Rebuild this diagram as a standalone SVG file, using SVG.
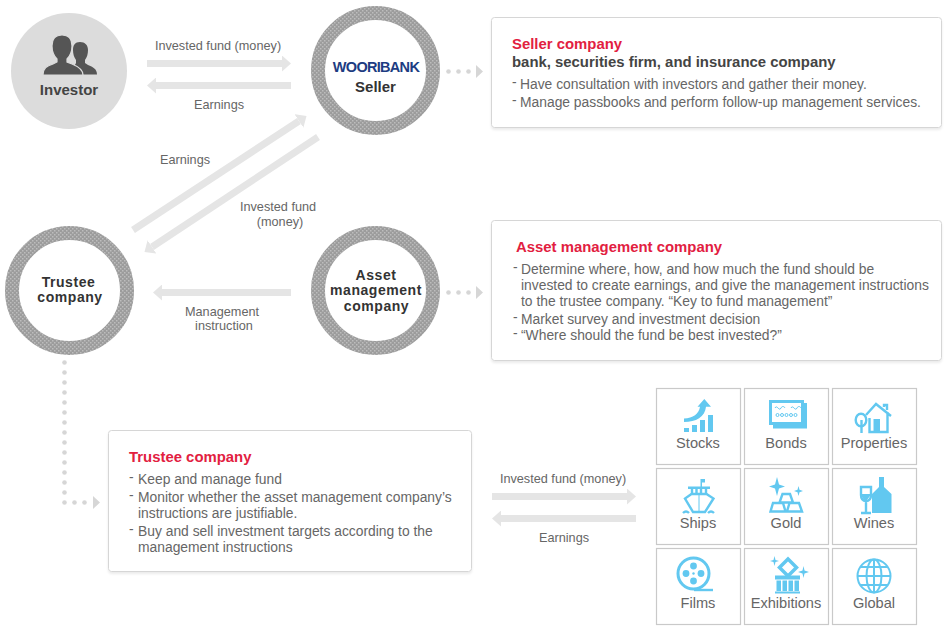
<svg xmlns="http://www.w3.org/2000/svg" width="945" height="631" viewBox="0 0 945 631">
<style>
text{font-family:"Liberation Sans",Arial,sans-serif}
.lb{font-size:12.7px;fill:#666;text-anchor:middle}
.nd{font-size:15px;font-weight:bold;fill:#333;text-anchor:middle}
.nm{font-size:14px;letter-spacing:.55px;font-weight:bold;fill:#333;text-anchor:middle}
.hd{font-size:14.9px;font-weight:bold;fill:#e2203f}
.sb{font-size:14.9px;font-weight:bold;fill:#444}
.bd{font-size:13.85px;fill:#666}
.tl{font-size:14.6px;fill:#666;text-anchor:middle}
.ring{fill:#fff;stroke:url(#dots);stroke-width:14}
.panel{fill:#fff;stroke:#d6d6d6;stroke-width:1;filter:url(#sh)}
.tile{fill:#fff;stroke:#c9c9c9;stroke-width:1.2}
.dot{fill:#d6d6d6}
.bar{stroke:#e5e5e5;stroke-width:7;fill:none;marker-end:url(#ah)}
.i{fill:#62c8f0;stroke:none}
.o{fill:none;stroke:#62c8f0;stroke-width:2.400}
.t{fill:none;stroke:#62c8f0;stroke-width:1}
</style>
<defs>
<pattern id="dots" width="4" height="4" patternUnits="userSpaceOnUse"><rect width="4" height="4" fill="#9c9c9c"/><rect x="0" y="0" width="1.500" height="1.500" fill="#bdbdbd"/><rect x="2" y="2" width="1.500" height="1.500" fill="#bdbdbd"/></pattern>
<marker id="ah" markerUnits="userSpaceOnUse" markerWidth="10" markerHeight="16" refX="0" refY="8" orient="auto"><path d="M0,0L9,8L0,16Z" fill="#e5e5e5"/></marker>
<filter id="sh" x="-2%" y="-2%" width="104%" height="108%"><feDropShadow dx="0" dy="2" stdDeviation="1" flood-color="#000" flood-opacity="0.08"/></filter>
</defs>
<g id="connectors">
<line class="bar" x1="147" y1="63.500" x2="282" y2="63.500"/>
<line class="bar" x1="291" y1="85.500" x2="156" y2="85.500"/>
<line class="bar" x1="133" y1="230" x2="299" y2="121"/>
<line class="bar" x1="318" y1="137" x2="152" y2="247"/>
<line class="bar" x1="291" y1="292.500" x2="162" y2="292.500"/>
<line class="bar" x1="492" y1="496.500" x2="627" y2="496.500"/>
<line class="bar" x1="636" y1="518.500" x2="501" y2="518.500"/>
<g class="dot">
<circle cx="448.500" cy="71.500" r="2.300"/><circle cx="458.500" cy="71.500" r="2.300"/><circle cx="468.500" cy="71.500" r="2.300"/><path d="M476,65L483,71.500L476,78Z"/>
<circle cx="448.500" cy="292.500" r="2.300"/><circle cx="458.500" cy="292.500" r="2.300"/><circle cx="468.500" cy="292.500" r="2.300"/><path d="M476,286L483,292.500L476,299Z"/>
<circle cx="64.500" cy="362.500" r="2.300"/><circle cx="64.500" cy="372.500" r="2.300"/><circle cx="64.500" cy="382.500" r="2.300"/><circle cx="64.500" cy="392.500" r="2.300"/><circle cx="64.500" cy="402.500" r="2.300"/><circle cx="64.500" cy="412.500" r="2.300"/><circle cx="64.500" cy="422.500" r="2.300"/><circle cx="64.500" cy="432.500" r="2.300"/><circle cx="64.500" cy="442.500" r="2.300"/><circle cx="64.500" cy="452.500" r="2.300"/><circle cx="64.500" cy="462.500" r="2.300"/><circle cx="64.500" cy="472.500" r="2.300"/><circle cx="64.500" cy="482.500" r="2.300"/><circle cx="64.500" cy="492.500" r="2.300"/>
<circle cx="64.500" cy="502.500" r="2.300"/><circle cx="74.500" cy="502.500" r="2.300"/><circle cx="84.500" cy="502.500" r="2.300"/><path d="M93,496L100,502.500L93,509Z"/>
</g>
<text class="lb" x="218" y="50">Invested fund (money)</text>
<text class="lb" x="219" y="109">Earnings</text>
<text class="lb" x="185" y="164">Earnings</text>
<text class="lb" y="211"><tspan x="278">Invested fund</tspan><tspan x="280" dy="15">(money)</tspan></text>
<text class="lb" y="316"><tspan x="222">Management</tspan><tspan x="224" dy="14">instruction</tspan></text>
<text class="lb" x="563" y="483">Invested fund (money)</text>
<text class="lb" x="564" y="542">Earnings</text>
</g>
<g id="investor">
<circle cx="69" cy="71" r="58" fill="#dcdcdc"/>
<path fill="#555" d="M70,74.500H97C97,69 93,67 88,65L85,63V60C87,57 88,54 88,50C88,45 85,42 80,42C75,42 73,45 73,50C73,54 74,57 76,60V63Z"/>
<path fill="#555" stroke="#dcdcdc" stroke-width="1.200" d="M43,75C43,68 47,66 53,64L57,62V59C54,56 52,51 52,46C52,39 56,35 62,35C68,35 72,39 72,46C72,51 70,56 67,59V62L72,64C77,66 83,69 83,75Z"/>
<text class="nd" x="69" y="95" style="fill:#444">Investor</text>
</g>
<g id="seller">
<circle class="ring" cx="375.500" cy="70.500" r="57.500"/>
<text x="376" y="72" text-anchor="middle" font-size="14.500" font-weight="bold" letter-spacing="-.7" fill="#1d3c82">WOORIBANK</text>
<text class="nd" x="375.500" y="92">Seller</text>
</g>
<g id="trustee">
<circle class="ring" cx="69.500" cy="290.500" r="57.500"/>
<text class="nm" y="286.750"><tspan x="68.500">Trustee</tspan><tspan x="70" dy="15.500">company</tspan></text>
</g>
<g id="asset">
<circle class="ring" cx="375.500" cy="290.500" r="57.500"/>
<text class="nm" y="279.500"><tspan x="376">Asset</tspan><tspan x="376" dy="15.500">management</tspan><tspan x="376.500" dy="15.500">company</tspan></text>
</g>
<g id="seller-panel">
<rect class="panel" x="491.500" y="17.500" width="450" height="110" rx="3"/>
<text class="hd" x="512" y="49">Seller company</text>
<text class="sb" x="512" y="67">bank, securities firm, and insurance company</text>
<text class="bd" y="89"><tspan x="512" dy="-2">-</tspan><tspan x="520" dy="2">Have consultation with investors and gather their money.</tspan></text>
<text class="bd" y="107"><tspan x="512" dy="-2">-</tspan><tspan x="520" dy="2">Manage passbooks and perform follow-up management services.</tspan></text>
</g>
<g id="asset-panel">
<rect class="panel" x="491.500" y="220.500" width="450" height="140" rx="3"/>
<text class="hd" x="516" y="252">Asset management company</text>
<text class="bd" y="274"><tspan x="513" dy="-2">-</tspan><tspan x="521" dy="2">Determine where, how, and how much the fund should be</tspan></text>
<text class="bd" x="521" y="290">invested to create earnings, and give the management instructions</text>
<text class="bd" x="521" y="306">to the trustee company. “Key to fund management”</text>
<text class="bd" y="324"><tspan x="513" dy="-2">-</tspan><tspan x="521" dy="2">Market survey and investment decision</tspan></text>
<text class="bd" y="340"><tspan x="513" dy="-2">-</tspan><tspan x="521" dy="2">“Where should the fund be best invested?”</tspan></text>
</g>
<g id="trustee-panel">
<rect class="panel" x="108.500" y="430.500" width="363" height="141" rx="3"/>
<text class="hd" x="129" y="462">Trustee company</text>
<text class="bd" y="484"><tspan x="129" dy="-2">-</tspan><tspan x="138" dy="2">Keep and manage fund</tspan></text>
<text class="bd" y="502"><tspan x="129" dy="-2">-</tspan><tspan x="138" dy="2">Monitor whether the asset management company’s</tspan></text>
<text class="bd" x="138" y="518">instructions are justifiable.</text>
<text class="bd" y="536"><tspan x="129" dy="-2">-</tspan><tspan x="138" dy="2">Buy and sell investment targets according to the</tspan></text>
<text class="bd" x="138" y="552">management instructions</text>
</g>
<g id="stocks"><rect class="tile" x="656.500" y="388.500" width="84" height="76"/>
<path class="i" d="M684,428h5v4h-5zM692,425h5v7h-5zM700,420h5v12h-5zM708,415h5v17h-5z"/>
<path class="i" d="M684,418.500C693,418 699,414 700,406.700H697.500L704.300,399L711,406.700H706C705,417 696,422 684,422Z"/>
<text class="tl" x="698" y="448">Stocks</text></g>
<g id="bonds"><rect class="tile" x="744.500" y="388.500" width="84" height="76"/>
<path class="i" d="M804,403H807V428.500H773V425H804Z"/>
<rect x="770.500" y="401.500" width="32" height="22" fill="#fff" stroke="#62c8f0" stroke-width="3"/>
<path class="t" d="M775,408c2,-4 4,4 6,0c1,-2 3,-2 4,0M791,408c2,-4 4,4 6,0c1,-2 3,-2 4,0"/>
<g class="t"><circle cx="777.500" cy="415" r="1.500"/><circle cx="782" cy="415" r="1.500"/><circle cx="786.500" cy="415" r="1.500"/><circle cx="791" cy="415" r="1.500"/><circle cx="795.500" cy="415" r="1.500"/></g>
<text class="tl" x="786" y="448">Bonds</text></g>
<g id="properties"><rect class="tile" x="832.500" y="388.500" width="84" height="76"/>
<path class="o" d="M866,415L876,404L891,416M869.500,418V432H887.500V412"/><path class="o" d="M884,407V405H887V410"/>
<path class="i" d="M873.500,419h6.500v13h-6.500z"/>
<ellipse class="o" cx="861" cy="420" rx="5.300" ry="6.300"/><path class="o" d="M861.500,420V433"/>
<text class="tl" x="874" y="448">Properties</text></g>
<g id="ships"><rect class="tile" x="656.500" y="468.500" width="84" height="76"/>
<path class="i" d="M688,486.500h22v2.500h-22zM700.500,479h4.500v3.500h-3v4h-1.500z"/>
<path class="o" stroke-width="2" d="M692,489v5M696.500,489v5M701,489v5M706,489v5"/>
<path class="o" d="M691.500,494H706.500L713.500,498.500L705,512H693L685,498.500Z"/>
<path class="t" stroke-width="1.200" d="M699,494V512"/>
<path class="o" stroke-width="1.300" d="M683,513q3,-3 6,0M708,513q3,-3 6,0"/>
<text class="tl" x="698" y="528">Ships</text></g>
<g id="gold"><rect class="tile" x="744.500" y="468.500" width="84" height="76"/>
<path class="i" d="M777,477L779,484.500L785,486.500L779,488.500L777,496L775,488.500L769,486.500L775,484.500Z"/>
<path class="i" d="M798.500,486L799.500,489.800L803,491L799.500,492.200L798.500,496L797.500,492.200L794,491L797.500,489.800Z"/>
<path class="o" d="M782.500,494H790L793,502.500H779.500ZM773,503H783L785.500,511.500H770.500ZM789.500,503H799L802,511.500H787Z"/>
<text class="tl" x="786" y="528">Gold</text></g>
<g id="wines"><rect class="tile" x="832.500" y="468.500" width="84" height="76"/>
<path class="o" stroke-width="1.800" d="M861,487H871V495C871,499 869,501 866,501C863,501 861,499 861,495ZM866,501V512M861,513H871"/>
<path class="i" d="M862,494h8v2l-3,4h-3l-2,-3z"/>
<path class="i" d="M879,477h5v10l7.500,7v19H872V494l7,-7z"/>
<text class="tl" x="874" y="528">Wines</text></g>
<g id="films"><rect class="tile" x="656.500" y="548.500" width="84" height="76"/>
<circle cx="693.500" cy="573.500" r="15.500" fill="none" stroke="#62c8f0" stroke-width="3"/>
<g class="i"><circle cx="693.500" cy="566" r="3.400"/><circle cx="693.500" cy="581" r="3.400"/><circle cx="686" cy="573.500" r="3.400"/><circle cx="701" cy="573.500" r="3.400"/><circle cx="693.500" cy="573.500" r="1.200"/></g>
<path class="o" stroke-width="1.200" d="M694,590H713"/>
<text class="tl" x="698" y="608">Films</text></g>
<g id="exhibitions"><rect class="tile" x="744.500" y="548.500" width="84" height="76"/>
<path d="M788,559L796.500,567.500L788,576L779.500,567.500Z" fill="none" stroke="#62c8f0" stroke-width="3.500"/>
<path class="i" d="M774.500,556L775.500,560L779,561L775.500,562L774.500,566L773.500,562L770,561L773.500,560Z"/>
<path class="i" d="M803.500,566L804.500,570.500L809,572L804.500,573.500L803.500,578L802.500,573.500L798,572L802.500,570.500Z"/>
<path class="i" d="M775,575.500h25v4h-25zM776.500,580.500h4.500v10.500h-4.500zM782.500,580.500h4.500v10.500h-4.500zM788.500,580.500h4.500v10.500h-4.500zM794.500,580.500h4.500v10.500h-4.500zM775,591.500h25v2h-25z"/>
<text class="tl" x="786" y="608">Exhibitions</text></g>
<g id="global"><rect class="tile" x="832.500" y="548.500" width="84" height="76"/>
<g fill="none" stroke="#62c8f0" stroke-width="2"><circle cx="874" cy="576" r="16.500"/><ellipse cx="874" cy="576" rx="7.500" ry="16.500"/><path d="M874,559.500V592.500M857.500,576H890.500M860,567H888M860,585H888"/></g>
<text class="tl" x="874" y="608">Global</text></g>
</svg>
